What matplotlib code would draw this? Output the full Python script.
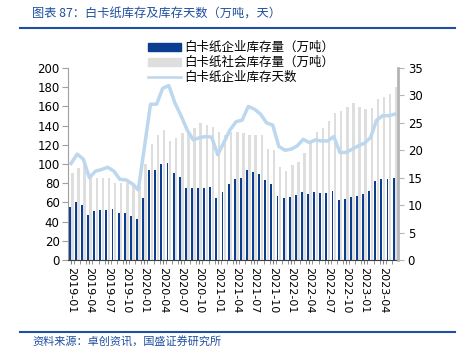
import numpy as np
import pandas as pd
import matplotlib
matplotlib.use("Agg")
import matplotlib.pyplot as plt
from matplotlib.lines import Line2D

plt.rcParams['font.family'] = ['DejaVu Sans', 'Noto Sans CJK SC']

# monthly data, 2019-01 .. 2023-06
months = pd.date_range("2019-01", periods=54, freq="MS").strftime("%Y-%m").tolist()

enterprise = [55.5, 60.5, 57.3, 47.0, 50.8, 51.8, 52.5, 53.2, 48.7, 48.5, 45.8, 42.5,
              64.6, 93.6, 93.6, 99.6, 101.0, 90.5, 86.2, 74.8, 74.6, 75.4, 75.4, 75.9,
              64.5, 70.7, 79.4, 84.8, 85.6, 93.9, 91.9, 89.1, 83.7, 78.9, 66.2, 64.3,
              65.5, 67.6, 70.4, 68.4, 70.4, 69.7, 69.7, 72.1, 62.7, 63.1, 65.2, 66.9,
              68.3, 71.8, 81.8, 84.2, 84.2, 85.3]

social = [90.6, 95.7, 100.3, 85.3, 85.3, 85.3, 85.3, 80.1, 80.1, 80.1, 80.0, 77.0,
          100.3, 120.5, 130.0, 135.3, 123.6, 127.2, 132.1, 132.1, 137.3, 142.5, 140.7, 138.3,
          133.8, 130.3, 133.8, 133.8, 132.8, 130.3, 130.3, 130.3, 115.8, 114.7, 96.7, 93.2,
          99.1, 101.9, 111.3, 124.4, 133.4, 137.3, 144.9, 152.9, 154.9, 159.1, 163.3, 159.1,
          157.4, 158.1, 168.1, 169.5, 173.0, 180.3]

days = [17.6, 19.3, 18.4, 15.0, 16.2, 16.5, 16.9, 16.2, 14.7, 14.6, 13.9, 12.8,
        20.5, 28.4, 28.4, 31.3, 31.8, 28.6, 26.3, 23.7, 21.9, 22.3, 22.5, 22.4,
        19.2, 21.4, 23.7, 25.2, 25.5, 28.0, 27.5, 26.6, 25.0, 24.6, 20.7, 20.0,
        20.2, 20.8, 22.0, 21.4, 21.9, 21.7, 21.7, 22.5, 19.6, 19.6, 20.2, 20.8,
        21.3, 22.3, 25.5, 26.3, 26.3, 26.6]

label_ent = "白卡纸企业库存量（万吨）"
label_soc = "白卡纸社会库存量（万吨）"
label_days = "白卡纸企业库存天数"

c_blue = "#0b3d91"
c_gray = "#dedede"
c_line = "#bdd7ee"
c_title = "#1f4fa0"

fig = plt.figure(figsize=(4.65, 3.54), dpi=100)
ax = fig.add_axes([68 / 465, 1 - 260 / 354, 330 / 465, 192 / 354])

x = np.arange(len(months))
ax.bar(x - 0.22, enterprise, width=0.3, color=c_blue, zorder=2)
ax.bar(x + 0.2, social, width=0.4, color=c_gray, zorder=2)
ax.set_xlim(-0.5, len(months) - 0.5)
ax.set_ylim(0, 200)
ax.set_yticks(range(0, 201, 20))
ax.set_xticks(x[::3])
ax.set_xticklabels(months[::3], rotation=-90, fontsize=8)
ax.set_xticks(x[:-1] + 0.5, minor=True)
ax.tick_params(axis='x', which='both', length=3, color="#808080", pad=2)
ax.tick_params(axis='y', labelsize=8.5, length=4, color="#a0a0a0", pad=2)
for s in ["top", "right"]:
    ax.spines[s].set_visible(False)
ax.spines["left"].set_color("#a0a0a0")
ax.spines["bottom"].set_color("#404040")

ax2 = ax.twinx()
ax2.plot(x, days, color=c_line, lw=2.5, zorder=3)
ax2.set_ylim(0, 35)
ax2.set_yticks(range(0, 36, 5))
ax2.tick_params(axis='y', labelsize=8.5, length=4, color="#b4b4b4", pad=3)
for s in ["top", "left", "bottom"]:
    ax2.spines[s].set_visible(False)
ax2.spines["right"].set_color("#b4b4b4")
ax2.spines["right"].set_linewidth(2)

handles = [plt.Rectangle((0, 0), 1, 1, color=c_blue),
           plt.Rectangle((0, 0), 1, 1, color=c_gray),
           Line2D([0], [0], color=c_line, lw=1.8)]
fig.legend(handles, [label_ent, label_soc, label_days], loc="upper left",
           bbox_to_anchor=(137 / 465, 1 - 30 / 354), frameon=False,
           prop={'family': ['Noto Sans CJK SC'], 'size': 9},
           handlelength=2.6, handleheight=0.6, handletextpad=0.25, labelspacing=0.15)

# title, source and rules
fig.text(32 / 465, 1 - 14 / 354, "图表 87：白卡纸库存及库存天数（万吨，天）", color=c_title,
         fontsize=8.8, style="italic", va="center", family=['Noto Sans CJK SC', 'DejaVu Sans'])
fig.add_artist(Line2D([20 / 465, 455 / 465], [1 - 28 / 354] * 2, color=c_title, lw=1.5))
fig.add_artist(Line2D([20 / 465, 455 / 465], [1 - 332 / 354] * 2, color=c_title, lw=1.5))
fig.text(32 / 465, 1 - 342 / 354, "资料来源：卓创资讯，国盛证券研究所", color=c_title,
         fontsize=8, style="italic", va="center", family=['Noto Sans CJK SC', 'DejaVu Sans'])

fig.savefig("out.png", dpi=100)
